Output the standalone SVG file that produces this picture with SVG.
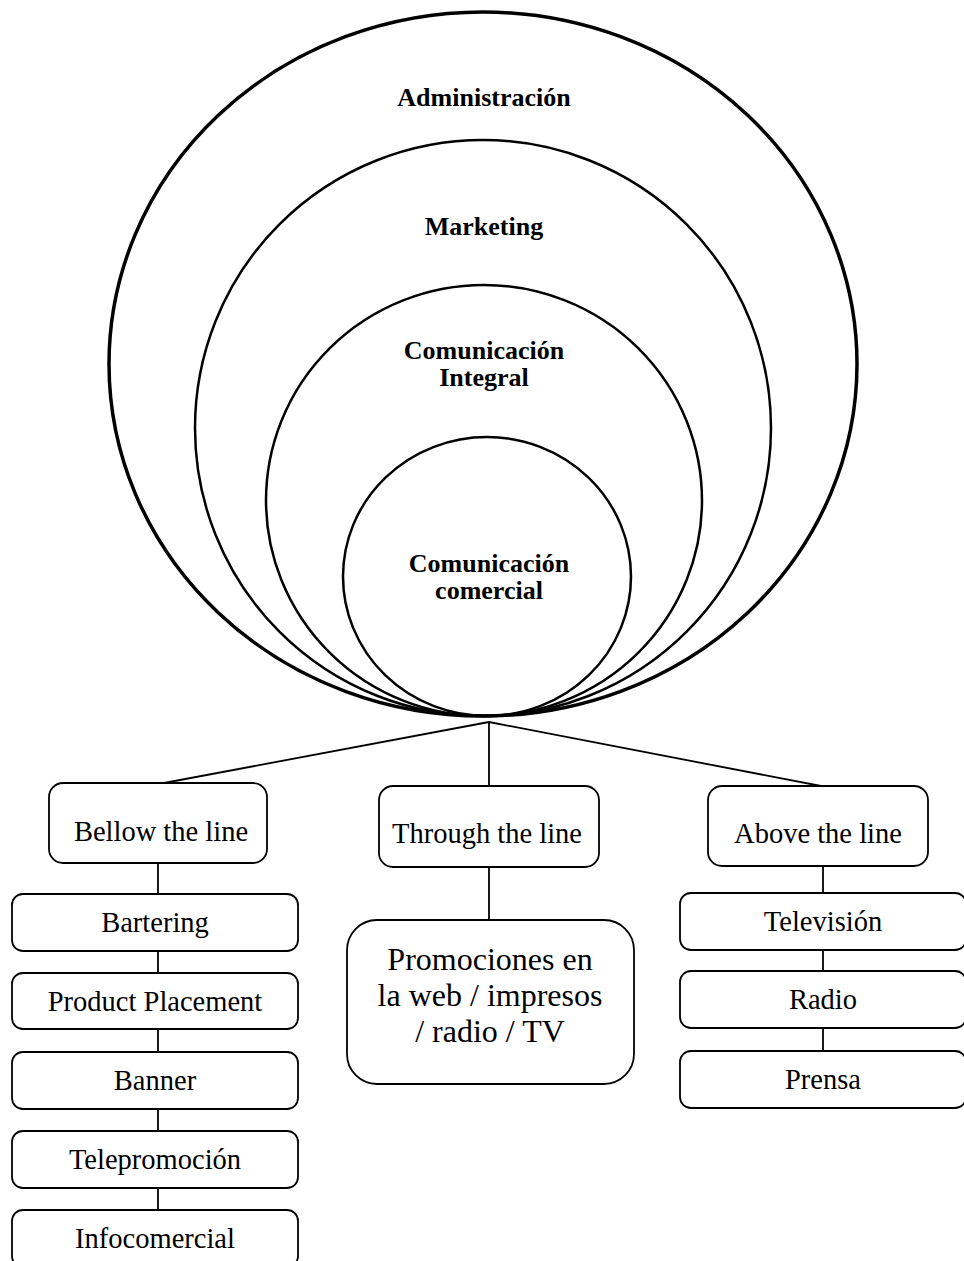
<svg xmlns="http://www.w3.org/2000/svg" width="964" height="1261" viewBox="0 0 964 1261">
  <style>
    .ring { fill: none; stroke: #000; stroke-width: 2.5; }
    .ring-outer { fill: none; stroke: #000; stroke-width: 3.5; }
    .ring-label { font-family: "Liberation Serif", "Times New Roman", serif; font-weight: bold; font-size: 26px; text-anchor: middle; fill: #000; }
    .box { fill: #fff; stroke: #000; stroke-width: 1.8; }
    .box-label { font-family: "Liberation Serif", "Times New Roman", serif; font-size: 28.5px; text-anchor: middle; fill: #000; }
    .promo-label { font-family: "Liberation Serif", "Times New Roman", serif; font-size: 32px; text-anchor: middle; fill: #000; }
    .link { fill: none; stroke: #000; stroke-width: 1.8; }
  </style>
  <rect width="964" height="1261" fill="#fff"/>

  <!-- nested areas, all touching at the bottom point -->
  <g id="administracion">
    <ellipse class="ring-outer" cx="483" cy="364" rx="374" ry="352"/>
    <text class="ring-label" x="484" y="106">Administración</text>
  </g>
  <g id="marketing">
    <ellipse class="ring" cx="483" cy="428" rx="288" ry="288"/>
    <text class="ring-label" x="484" y="235">Marketing</text>
  </g>
  <g id="comunicacion-integral">
    <ellipse class="ring" cx="484" cy="500.5" rx="218" ry="215.5"/>
    <text class="ring-label" x="484" y="359">Comunicación</text>
    <text class="ring-label" x="484" y="386">Integral</text>
  </g>
  <g id="comunicacion-comercial">
    <ellipse class="ring" cx="487" cy="576.5" rx="144" ry="139.5"/>
    <text class="ring-label" x="489" y="572">Comunicación</text>
    <text class="ring-label" x="489" y="599">comercial</text>
  </g>

  <!-- connectors -->
  <g id="connectors">
    <line class="link" x1="489" y1="722" x2="164" y2="783"/>
    <line class="link" x1="489" y1="722" x2="489" y2="786"/>
    <line class="link" x1="489" y1="722" x2="821" y2="786"/>
    <line class="link" x1="158" y1="863" x2="158" y2="894"/>
    <line class="link" x1="158" y1="951" x2="158" y2="973"/>
    <line class="link" x1="158" y1="1029" x2="158" y2="1052"/>
    <line class="link" x1="158" y1="1109" x2="158" y2="1131"/>
    <line class="link" x1="158" y1="1188" x2="158" y2="1210"/>
    <line class="link" x1="489" y1="867" x2="489" y2="920"/>
    <line class="link" x1="823" y1="866" x2="823" y2="893"/>
    <line class="link" x1="823" y1="950" x2="823" y2="971"/>
    <line class="link" x1="823" y1="1028" x2="823" y2="1051"/>
  </g>

  <!-- below the line branch -->
  <g id="bellow-the-line">
    <rect class="box" x="49" y="783" width="218" height="80" rx="14"/>
    <text class="box-label" x="161" y="841">Bellow the line</text>
  </g>
  <g id="bartering">
    <rect class="box" x="12" y="894" width="286" height="57" rx="11"/>
    <text class="box-label" x="155" y="932">Bartering</text>
  </g>
  <g id="product-placement">
    <rect class="box" x="12" y="973" width="286" height="56" rx="11"/>
    <text class="box-label" x="155" y="1011">Product Placement</text>
  </g>
  <g id="banner">
    <rect class="box" x="12" y="1052" width="286" height="57" rx="11"/>
    <text class="box-label" x="155" y="1090">Banner</text>
  </g>
  <g id="telepromocion">
    <rect class="box" x="12" y="1131" width="286" height="57" rx="11"/>
    <text class="box-label" x="155" y="1169">Telepromoción</text>
  </g>
  <g id="infocomercial">
    <rect class="box" x="12" y="1210" width="286" height="57" rx="11"/>
    <text class="box-label" x="155" y="1248">Infocomercial</text>
  </g>

  <!-- through the line branch -->
  <g id="through-the-line">
    <rect class="box" x="379" y="786" width="220" height="81" rx="14"/>
    <text class="box-label" x="487" y="843">Through the line</text>
  </g>
  <g id="promociones">
    <rect class="box" x="347" y="920" width="287" height="164" rx="30"/>
    <text class="promo-label" x="490" y="970">Promociones en</text>
    <text class="promo-label" x="490" y="1006">la web / impresos</text>
    <text class="promo-label" x="490" y="1042">/ radio / TV</text>
  </g>

  <!-- above the line branch -->
  <g id="above-the-line">
    <rect class="box" x="708" y="786" width="220" height="80" rx="14"/>
    <text class="box-label" x="818" y="843">Above the line</text>
  </g>
  <g id="television">
    <rect class="box" x="680" y="893" width="286" height="57" rx="11"/>
    <text class="box-label" x="823" y="931">Televisión</text>
  </g>
  <g id="radio">
    <rect class="box" x="680" y="971" width="286" height="57" rx="11"/>
    <text class="box-label" x="823" y="1009">Radio</text>
  </g>
  <g id="prensa">
    <rect class="box" x="680" y="1051" width="286" height="57" rx="11"/>
    <text class="box-label" x="823" y="1089">Prensa</text>
  </g>
</svg>
